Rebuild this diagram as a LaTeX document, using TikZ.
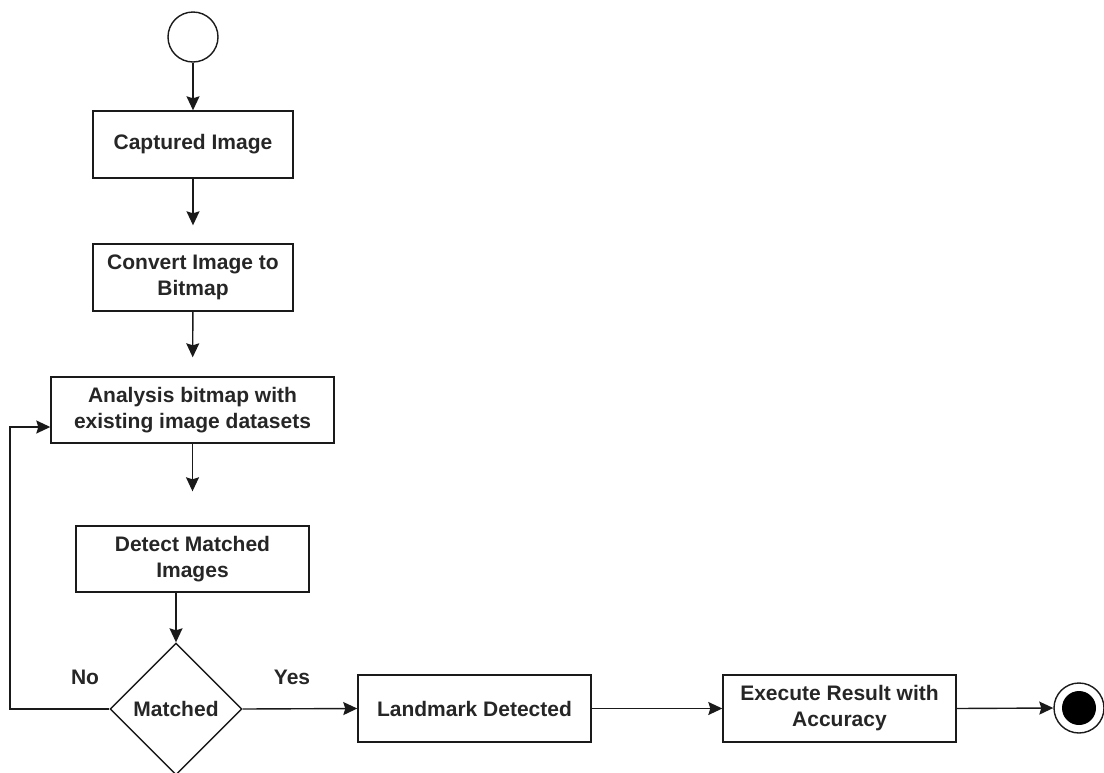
\documentclass[tikz,border=0pt]{standalone}
\usepackage{fontspec}
\setmainfont{Liberation Sans}
\usetikzlibrary{shapes.geometric,arrows.meta}
\definecolor{txt}{HTML}{262626}
\definecolor{ln}{HTML}{1A1A1A}
\begin{document}
\begin{tikzpicture}[x=1pt,y=-1pt,
  lbl/.style={font=\fontsize{21}{26}\selectfont\bfseries, text=txt},
  box/.style={lbl, draw=ln, line width=1.4pt, inner sep=0pt, align=center},
  flow/.style={draw=ln, line width=1.4pt, -{Stealth[length=14pt,width=13pt,inset=2pt]}}]
\useasboundingbox (0,0) rectangle (1104,772);

% start and end states
\node[circle, draw=ln, line width=1.4pt, minimum size=50pt, inner sep=0pt] (start) at (193,37) {};
\node[circle, draw=ln, line width=1.4pt, minimum size=50pt, inner sep=0pt] (stop) at (1079,708) {};
\node[circle, fill=black, minimum size=34pt, inner sep=0pt] (stopdot) at (stop) {};

% activities
\node[box, minimum width=200pt, minimum height=67pt] (cap)  at (193,144.5) {Captured Image};
\node[box, minimum width=200pt, minimum height=67pt] (conv) at (193,277.5) {Convert Image to\\Bitmap};
\node[box, minimum width=283pt, minimum height=66pt] (ana)  at (192.5,410) {Analysis bitmap with\\existing image datasets};
\node[box, minimum width=233pt, minimum height=66pt] (det)  at (192.5,559) {Detect Matched\\Images};
\node[box, minimum width=233pt, minimum height=67pt] (land) at (474.5,708.5) {Landmark Detected};
\node[box, minimum width=233pt, minimum height=67pt] (exe)  at (839.5,708.5) {Execute Result with\\Accuracy};

% decision
\node[box, diamond, minimum width=132pt, minimum height=132pt] (dia) at (176,709) {Matched};
\node[lbl] (no)  at (85,677) {No};
\node[lbl] (yes) at (292,677) {Yes};

% loop-back points
\coordinate (corner) at (10,709);
\coordinate (loopin) at ([yshift=-17pt]ana.west);

% connectors
\draw[flow] (start) -- (cap);
\draw[flow, shorten >=18pt] (cap) -- (conv);
\draw[flow, shorten >=19pt] (conv) -- (ana);
\draw[flow, shorten >=34pt] (ana.south) -- (ana.south |- det.north);
\draw[flow] (dia.north |- det.south) -- (dia.north);
\draw[flow] (dia.east) -- (land.west);
\draw[flow] (land.east) -- (exe.west);
\draw[flow] (exe.east) -- (stop.west);
\draw[flow] (dia.west) -- (corner) |- (loopin);
\end{tikzpicture}
\end{document}
